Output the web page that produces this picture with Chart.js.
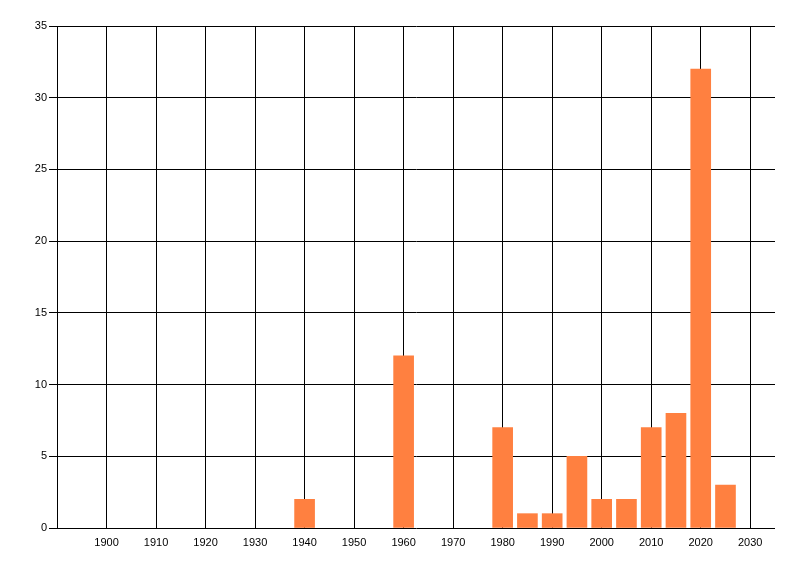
<!DOCTYPE html>
<html>
<head>
<meta charset="utf-8">
<script src="https://cdn.jsdelivr.net/npm/chart.js@4"></script>
<style>
html,body{margin:0;padding:0;background:#fff;}
#wrap{width:800px;height:576px;}
</style>
</head>
<body>
<div id="wrap"><canvas id="c" width="800" height="576"></canvas></div>
<script>
const years = [1940, 1960, 1980, 1985, 1990, 1995, 2000, 2005, 2010, 2015, 2020, 2025];
const counts = [2, 12, 7, 1, 1, 5, 2, 2, 7, 8, 32, 3];
const xTickYears = [1900, 1910, 1920, 1930, 1940, 1950, 1960, 1970, 1980, 1990, 2000, 2010, 2020, 2030];
const xMin = 1890, xMax = 2035;
const yMin = 0, yMax = 35, yStep = 5;

const points = years.map((y, i) => ({x: y, y: counts[i]}));

new Chart(document.getElementById('c'), {
  type: 'bar',
  data: {
    datasets: [{
      data: points,
      backgroundColor: 'rgb(255,128,64)',
      borderWidth: 0,
      barThickness: 20
    }]
  },
  options: {
    responsive: false,
    animation: false,
    layout: {padding: {left: 0, top: 26, right: 25, bottom: 0}},
    plugins: {legend: {display: false}, tooltip: {enabled: false}},
    scales: {
      x: {
        type: 'linear',
        min: xMin, max: xMax,
        offset: false,
        afterBuildTicks: s => { s.ticks = xTickYears.map(v => ({value: v})); },
        ticks: {color: '#000', padding: 8, maxRotation: 0, autoSkip: false,
                font: {family: 'Liberation Sans, Arial', size: 11}, callback: v => String(v)},
        grid: {color: '#000', lineWidth: 1, drawTicks: false, offset: false},
        border: {display: false},
        afterFit: s => { s.height = 48; }
      },
      y: {
        min: yMin, max: yMax,
        ticks: {stepSize: yStep, color: '#000', padding: 2,
                font: {family: 'Liberation Sans, Arial', size: 11}},
        grid: {color: '#000', lineWidth: 1, drawTicks: true, tickLength: 8},
        border: {display: true, color: '#000', width: 1},
        afterFit: s => { s.width = 57; }
      }
    }
  }
});
</script>
</body>
</html>
